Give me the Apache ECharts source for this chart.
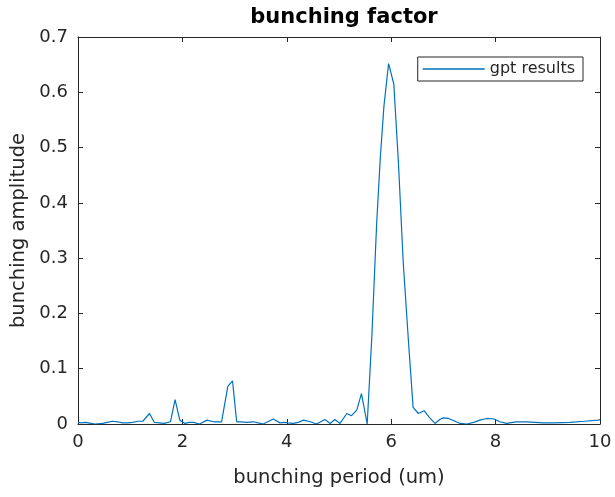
<!DOCTYPE html>
<html><head><meta charset="utf-8">
<script src="https://cdn.jsdelivr.net/npm/echarts@6/dist/echarts.min.js"></script>
<style>html,body{margin:0;padding:0;background:#fff}#c{width:615px;height:497px}</style>
</head><body><div id="c"></div>
<script>
var xVals = [0.00,0.06,0.15,0.25,0.33,0.47,0.56,0.66,0.76,0.85,0.95,1.05,1.14,1.24,1.37,1.46,1.56,1.65,1.77,1.86,1.95,2.05,2.13,2.21,2.33,2.47,2.60,2.75,2.87,2.96,3.04,3.13,3.23,3.36,3.45,3.55,3.74,3.87,3.96,4.02,4.12,4.22,4.32,4.45,4.57,4.73,4.83,4.92,5.02,5.15,5.24,5.34,5.43,5.54,5.63,5.72,5.79,5.86,5.95,6.05,6.14,6.23,6.33,6.42,6.52,6.63,6.73,6.84,6.93,7.00,7.10,7.20,7.32,7.45,7.58,7.70,7.83,7.97,8.08,8.21,8.40,8.60,8.91,9.10,9.43,9.70,9.96,10.0];
var yVals = [0.003,0.002,0.003,0.001,0.000,0.001,0.003,0.005,0.004,0.002,0.002,0.003,0.005,0.005,0.019,0.003,0.002,0.001,0.004,0.044,0.007,0.001,0.003,0.003,0.000,0.007,0.004,0.004,0.068,0.078,0.004,0.004,0.003,0.004,0.002,0.000,0.009,0.002,0.003,0.002,0.001,0.003,0.007,0.004,0.000,0.008,0.001,0.008,0.001,0.019,0.015,0.025,0.055,0.000,0.160,0.360,0.480,0.574,0.652,0.615,0.470,0.293,0.150,0.030,0.019,0.024,0.012,0.001,0.008,0.011,0.010,0.006,0.001,0.000,0.003,0.007,0.010,0.009,0.004,0.001,0.004,0.004,0.002,0.002,0.003,0.005,0.007,0.008];
var xTicks = [0,2,4,6,8,10];
var yTicks = [0,0.1,0.2,0.3,0.4,0.5,0.6,0.7];
var seriesName = 'gpt results';

var data = xVals.map(function(x,i){return [x, yVals[i]];});
var font = 'DejaVu Sans, sans-serif';
var axisCol = '#262626';
var chart = echarts.init(document.getElementById('c'));
function xAx(pos, show){
  return {type:'value', position:pos, min:xTicks[0], max:xTicks[xTicks.length-1], interval:xTicks[1]-xTicks[0],
    axisLine:{show:true, onZero:false, lineStyle:{color:axisCol, width:1}},
    axisTick:{show:true, inside:true, length:5, lineStyle:{color:axisCol}},
    axisLabel:{show:show, color:axisCol, fontSize:18, fontFamily:font, margin:9},
    splitLine:{show:false},
    name: show ? 'bunching period (um)' : '', nameLocation:'middle', nameGap:44,
    nameTextStyle:{color:axisCol, fontSize:19.5, fontFamily:font}};
}
function yAx(pos, show){
  return {type:'value', position:pos, min:0, max:0.7, interval:0.1,
    axisLine:{show:true, onZero:false, lineStyle:{color:axisCol, width:1}},
    axisTick:{show:true, inside:true, length:5, lineStyle:{color:axisCol}},
    axisLabel:{show:show, color:axisCol, fontSize:18, fontFamily:font, margin:10,
      formatter:function(v){var r=Math.round(v*10)/10; return yTicks.indexOf(r)>=0 ? String(r) : '';}},
    splitLine:{show:false},
    name: show ? 'bunching amplitude' : '', nameLocation:'middle', nameGap:45,
    nameTextStyle:{color:axisCol, fontSize:19.5, fontFamily:font}};
}
chart.setOption({
  animation:false,
  backgroundColor:'#fff',
  title:{text:'bunching factor', left:339, textAlign:'center', top:2,
    textStyle:{fontSize:21, fontWeight:'bold', color:'#000', fontFamily:font}},
  grid:{left:78, right:15, top:37, bottom:73},
  legend:{data:[seriesName], right:32, top:57, orient:'vertical',
    borderColor:axisCol, borderWidth:1, padding:[4,8,4,5],
    icon:'rect', itemWidth:62, itemHeight:1.5, itemGap:0,
    textStyle:{fontSize:16, color:axisCol, fontFamily:font}},
  xAxis:[xAx('bottom', true), xAx('top', false)],
  yAxis:[yAx('left', true), yAx('right', false)],
  series:[{name:seriesName, type:'line', data:data, symbol:'none', showSymbol:false,
    lineStyle:{color:'#0072BD', width:1.2}, itemStyle:{color:'#0072BD'}, xAxisIndex:0, yAxisIndex:0}]
});
</script></body></html>
